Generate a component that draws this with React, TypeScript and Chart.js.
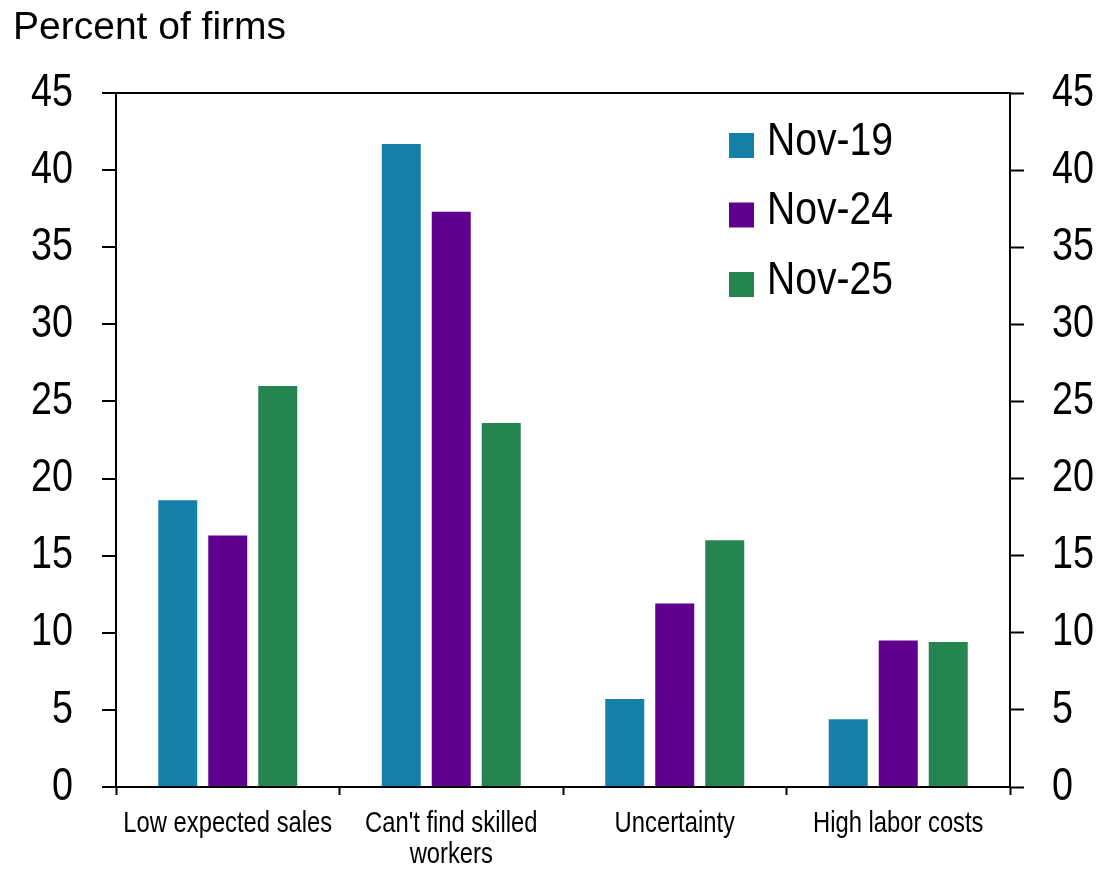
import React, { useEffect, useRef } from "react";
import { Chart, registerables } from "chart.js";

Chart.register(...registerables);

const categories: (string | string[])[] = [
  "Low expected sales",
  ["Can't find skilled", "workers"],
  "Uncertainty",
  "High labor costs",
];
const seriesLabels = ["Nov-19", "Nov-24", "Nov-25"];
const nov19 = [18.6, 41.7, 5.7, 4.4];
const nov24 = [16.3, 37.3, 11.9, 9.5];
const nov25 = [26.0, 23.6, 16.0, 9.4];
const seriesColors = ["#1380A9", "#5F008F", "#248550"];
const yTicks = [0, 5, 10, 15, 20, 25, 30, 35, 40, 45];

const NARROW = "'Arial Narrow', 'Liberation Sans', Arial, sans-serif";
const REGULAR = "'Liberation Sans', Arial, sans-serif";
const NARROW_SCALE = 0.82;
const LEGEND_SCALE = 0.85;

// Emulates a condensed face: text set in the "Arial Narrow" stack is drawn horizontally compressed.
const narrowText = {
  id: "narrowText",
  beforeInit(chart: any) {
    const ctx = chart.ctx;
    if (ctx.__narrowPatched) return;
    ctx.__narrowPatched = true;
    const orig = ctx.fillText.bind(ctx);
    ctx.fillText = function (text: string, x: number, y: number, maxWidth?: number) {
      if (/Narrow/.test(ctx.font)) {
        ctx.save();
        ctx.translate(x, y);
        ctx.scale(NARROW_SCALE, 1);
        if (maxWidth !== undefined) orig(text, 0, 0, maxWidth / NARROW_SCALE);
        else orig(text, 0, 0);
        ctx.restore();
      } else if (maxWidth !== undefined) {
        orig(text, x, y, maxWidth);
      } else {
        orig(text, x, y);
      }
    };
  },
};

const insideLegend = {
  id: "insideLegend",
  afterDatasetsDraw(chart: any) {
    const { ctx, chartArea } = chart;
    const x0 = chartArea.right - 281;
    const y0 = chartArea.top + 40;
    const step = 69.5;
    chart.data.datasets.forEach((ds: any, i: number) => {
      const y = y0 + i * step;
      ctx.save();
      ctx.fillStyle = ds.backgroundColor;
      ctx.fillRect(x0, y, 25, 25);
      ctx.fillStyle = "#000";
      ctx.font = `46px ${REGULAR}`;
      ctx.textBaseline = "middle";
      ctx.textAlign = "left";
      ctx.translate(x0 + 38, y + 9);
      ctx.scale(LEGEND_SCALE, 1);
      ctx.fillText(ds.label, 0, 0);
      ctx.restore();
    });
  },
};

export default function App() {
  const ref = useRef<HTMLCanvasElement | null>(null);
  useEffect(() => {
    if (!ref.current) return;
    const data = [nov19, nov24, nov25];
    const chart = new Chart(ref.current, {
      type: "bar",
      data: {
        labels: categories as any,
        datasets: seriesLabels.map((label, i) => ({
          label,
          data: data[i],
          backgroundColor: seriesColors[i],
          borderWidth: 0,
          barPercentage: 0.78,
          categoryPercentage: 0.671,
          yAxisID: "y",
        })),
      },
      options: {
        animation: false,
        responsive: true,
        maintainAspectRatio: false,
        layout: { padding: { left: 13, right: 0, top: 0, bottom: 0 } },
        plugins: {
          legend: { display: false },
          tooltip: { enabled: false },
          title: {
            display: true,
            text: "Percent of firms",
            align: "start",
            color: "#000",
            font: { family: REGULAR, size: 39, weight: "normal", lineHeight: 1.2 },
            padding: { top: 5, bottom: 41.2 },
          },
        },
        scales: {
          x: {
            position: "bottom",
            grid: {
              display: true,
              offset: true,
              drawOnChartArea: false,
              drawTicks: true,
              tickLength: 8,
              tickColor: "#000",
              tickWidth: 2,
            },
            border: { display: true, color: "#000", width: 2 },
            ticks: {
              color: "#000",
              font: { family: NARROW, size: 29, lineHeight: 1.08 },
              padding: 13,
              maxRotation: 0,
              autoSkip: false,
            },
            afterFit(scale: any) {
              scale.height = 82;
            },
          },
          y: {
            position: "left",
            min: 0,
            max: 45,
            afterBuildTicks(scale: any) {
              scale.ticks = yTicks.map((v) => ({ value: v }));
            },
            grid: {
              display: true,
              drawOnChartArea: true,
              color: (ctx: any) => (ctx.tick && ctx.tick.value === 45 ? "#000" : "rgba(0,0,0,0)"),
              lineWidth: 2,
              tickLength: 14,
              tickColor: "#000",
              tickWidth: 2,
            },
            border: { display: true, color: "#000", width: 2 },
            ticks: {
              color: "#000",
              font: { family: NARROW, size: 46 },
              padding: 29,
            },
            afterFit(scale: any) {
              scale.width = 103;
            },
          },
          y2: {
            position: "right",
            min: 0,
            max: 45,
            afterBuildTicks(scale: any) {
              scale.ticks = yTicks.map((v) => ({ value: v }));
            },
            grid: {
              display: true,
              drawOnChartArea: false,
              tickLength: 14,
              tickColor: "#000",
              tickWidth: 2,
            },
            border: { display: true, color: "#000", width: 2 },
            ticks: {
              color: "#000",
              font: { family: NARROW, size: 46 },
              padding: 28,
            },
            afterFit(scale: any) {
              scale.width = 89;
            },
          },
        },
      },
      plugins: [narrowText, insideLegend],
    });
    return () => chart.destroy();
  }, []);

  return (
    <div style={{ position: "fixed", left: 0, top: 0, width: 1099, height: 869, background: "#fff" }}>
      <canvas ref={ref} />
    </div>
  );
}
